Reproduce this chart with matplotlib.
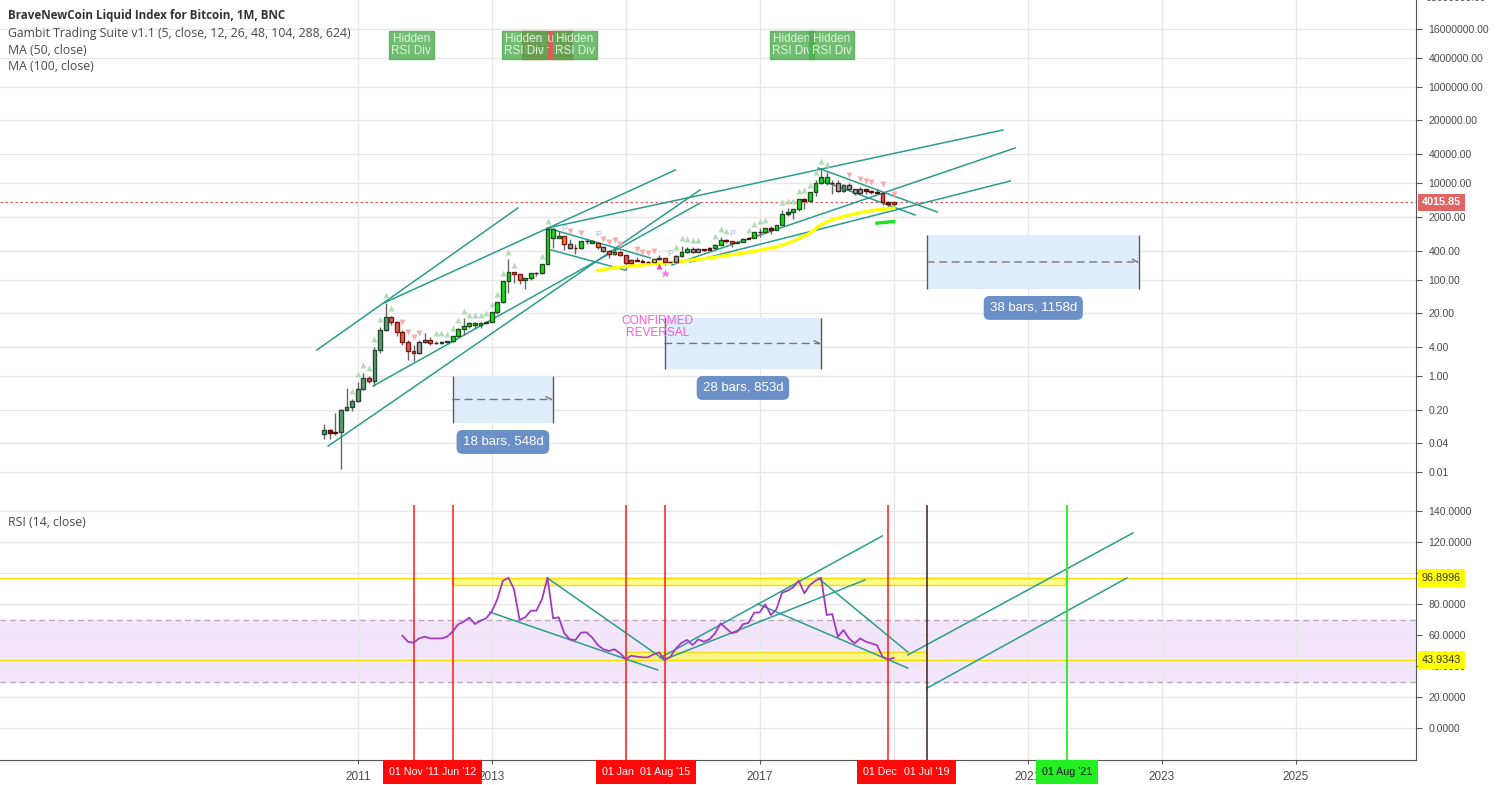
import numpy as np
import pandas as pd
import matplotlib
matplotlib.use("Agg")
import matplotlib.pyplot as plt
import matplotlib.transforms as mtrans
from matplotlib.patches import Rectangle

plt.rcParams["font.family"] = ["Liberation Sans", "DejaVu Sans"]

# ------------------------------------------------------------------ data
first_month = "2010-07-01"

opens = [0.064, 0.075, 0.065, 0.068, 0.20, 0.23,
         0.30, 0.55, 0.89, 0.80, 3.5, 9.0, 16.5, 13.4, 8.3, 5.15, 3.35, 3.0,
         5.0, 5.6, 4.95, 4.9, 5.0, 5.2, 6.8, 9.5, 10.7, 12.4, 11.3, 12.6,
         13.5, 20.9, 33.8, 94, 141, 129, 97, 106, 135, 134, 207, 1130,
         730, 800, 550, 450, 445, 630, 640, 585, 478, 388, 340, 378,
         320, 218, 255, 245, 237, 230, 263, 284, 230, 237, 314, 378,
         430, 370, 437, 416, 448, 530, 670, 624, 575, 608, 700, 742,
         965, 970, 1190, 1080, 1350, 2300, 2480, 2870, 4700, 4340, 6450, 9950,
         13300, 10100, 10300, 6900, 9200, 7500, 6300, 7700, 7000, 6600, 6300, 4000,
         3700]
highs = [0.10, 0.08, 0.17, 0.21, 0.56, 0.33,
         0.75, 1.14, 1.0, 4.05, 10.5, 33, 17.6, 14, 9.0, 5.6, 4.4, 5.5,
         7.7, 6.3, 5.4, 5.3, 5.2, 6.9, 9.8, 15.7, 13.0, 12.9, 13.0, 14.0,
         21, 34.5, 95, 264, 141, 130, 110, 137, 146, 213, 1160, 1160,
         1000, 800, 700, 540, 630, 680, 660, 600, 490, 415, 455, 383,
         320, 270, 300, 262, 248, 268, 320, 285, 245, 330, 500, 470,
         465, 448, 440, 468, 550, 780, 700, 626, 620, 740, 755, 970,
         1150, 1200, 1290, 1350, 2760, 3000, 2950, 4750, 5000, 6450, 11500, 19800,
         17200, 11800, 11600, 9800, 10000, 7700, 8500, 7750, 7400, 7600, 6500, 4200,
         4100]
lows = [0.05, 0.05, 0.06, 0.012, 0.19, 0.19,
        0.29, 0.52, 0.72, 0.62, 2.95, 8.7, 11.4, 6.8, 4.4, 2.15, 2.0, 2.8,
        4.8, 4.3, 4.6, 4.7, 4.9, 5.1, 6.4, 7.1, 9.8, 9.9, 10.0, 12.0,
        13, 19, 32, 53, 85, 80, 65, 100, 119, 133, 203, 450,
        730, 420, 440, 340, 430, 560, 570, 440, 370, 276, 323, 310,
        160, 214, 240, 216, 225, 220, 255, 198, 225, 236, 300, 350,
        350, 366, 400, 405, 440, 520, 580, 470, 575, 605, 680, 742,
        750, 920, 890, 1080, 1350, 2100, 1850, 2700, 2950, 4100, 5500, 9500,
        9200, 6000, 6600, 6500, 7000, 5800, 6100, 5900, 6100, 6200, 3500, 3150,
        3400]
closes = [0.075, 0.065, 0.068, 0.20, 0.23, 0.30,
          0.55, 0.89, 0.80, 3.5, 9.0, 16.5, 13.4, 8.3, 5.15, 3.35, 3.0, 5.0,
          5.6, 4.95, 4.9, 5.0, 5.2, 6.8, 9.5, 10.7, 12.4, 11.3, 12.6, 13.5,
          20.9, 33.8, 94, 141, 129, 97, 106, 135, 134, 207, 1130, 730,
          800, 550, 450, 445, 630, 640, 585, 478, 388, 340, 378, 320,
          218, 255, 245, 237, 230, 263, 284, 230, 237, 314, 378, 430,
          370, 437, 416, 448, 530, 670, 624, 575, 608, 700, 742, 965,
          970, 1190, 1080, 1350, 2300, 2480, 2870, 4700, 4340, 6450, 9950, 13300,
          10100, 10300, 6900, 9200, 7500, 6300, 7700, 7000, 6600, 6300, 4000, 3700,
          4015.85]
# bar colour class given by the Gambit suite
bar_kind = (["sg", "mr", "mr", "sg", "sg", "sg"]
            + ["sg", "sg", "red", "sg", "sg", "sg", "red", "red", "red", "red", "red", "gray"]
            + ["gray", "red", "dg", "dg", "dg", "lime", "lime", "lime", "lime", "lime", "lime", "dg"]
            + ["lime", "lime", "lime", "lime", "red", "red", "lime", "lime", "mr", "lime", "lime", "lime"]
            + ["lime", "orange", "gray", "mr", "lime", "mr", "lime", "orange", "gray", "red", "yellow", "red"]
            + ["red", "red", "mr", "mr", "mr", "yellow", "gray", "red", "mr", "gray", "lime", "lime"]
            + ["gray", "gray", "mr", "mr", "lime", "lime", "mr", "orange", "sg", "lime", "mr", "lime"]
            + ["mr", "lime", "mr", "lime", "lime", "dg", "lime", "lime", "mr", "lime", "lime", "lime"]
            + ["lime", "mr", "gray", "sg", "gray", "gray", "gray", "mr", "mr", "mr", "red", "mr"]
            + ["red"])
# u = buy triangle, d = sell triangle, p = "P" mark, m/x = magenta marks under the bar
signals = (".....u" + "uuuuuuu.dddd" + "..uuuuuuuuuu" + "uuuuu....uu." + ".pd.d..pdddd"
           + "..ddddmxpuuu" + "uu..uuup..uu" + "uu..uuuuuuuu" + "u...d.ddd.d." + "d")

rsi_first_month = "2011-09-01"
rsi_values = [59.6, 55.7, 55.0, 57.8,
              58.9, 57.8, 57.8, 57.8, 58.9, 62.2, 66.9, 68.6, 71.2, 67.1, 69.2, 70.8,
              75.0, 83.0, 95.0, 96.9, 89.5, 69.7, 71.4, 75.7, 75.7, 83.0, 96.9, 70.8,
              71.4, 61.1, 57.2, 56.8, 61.5, 61.7, 58.3, 53.5, 50.8, 49.7, 50.8, 48.2,
              44.5, 46.6, 46.0, 45.6, 45.6, 47.5, 48.8, 43.9, 46.0, 51.4, 55.0, 56.8,
              53.5, 57.2, 55.7, 57.2, 61.1, 67.5, 64.3, 61.1, 62.2, 66.9, 67.9, 74.4,
              74.6, 79.8, 72.9, 76.6, 87.3, 88.6, 90.8, 95.0, 86.9, 92.3, 95.0, 96.9,
              72.9, 73.5, 58.9, 63.2, 57.8, 54.6, 57.8, 55.7, 54.6, 53.5, 46.0, 44.2,
              45.2]

last_price = 4015.85
rsi_high_level = 96.8996
rsi_low_level = 43.9343

price_ticks = [0.01, 0.04, 0.2, 1, 4, 20, 100, 400, 2000, 10000, 40000,
               200000, 1000000, 4000000, 16000000, 68000000]
rsi_ticks = [0, 20, 40, 60, 80, 100, 120, 140]
year_ticks = [2011, 2013, 2015, 2017, 2019, 2021, 2023, 2025]
hidden_years = [2015, 2019]  # covered by the date tags

# hand-drawn trend lines, (decimal year, value) pairs
price_lines = [((2010.39, 3.46), (2013.39, 3057)),
               ((2011.39, 32.7), (2015.74, 18790)),
               ((2011.23, 0.62), (2016.11, 3880)),
               ((2010.56, 0.0353), (2016.11, 7230)),
               ((2013.83, 1176), (2020.63, 127000)),
               ((2015.69, 201), (2020.81, 53700)),
               ((2015.96, 232), (2020.74, 11100)),
               ((2013.83, 1176), (2015.37, 281)),
               ((2013.89, 411), (2014.99, 158)),
               ((2017.87, 20660), (2019.65, 2525)),
               ((2017.90, 11650), (2019.32, 2190))]
rsi_lines = [((2012.97, 74.8), (2015.48, 37.4)),
             ((2013.83, 96.8), (2015.56, 44.5)),
             ((2015.51, 45.2), (2018.83, 123.9)),
             ((2015.56, 43.9), (2018.57, 95.5)),
             ((2017.87, 96.8), (2019.21, 49.0)),
             ((2016.97, 80.0), (2019.21, 38.7)),
             ((2019.21, 47.1), (2022.57, 125.8)),
             ((2019.50, 25.8), (2022.48, 96.8))]
rsi_zones = [(2012.417, 2021.55, 92.3, rsi_high_level),
             (2015.0, 2019.5, rsi_low_level, 49.0)]

# date range measurements: start, end, low, high, label
ranges = [(2012.417, 2013.917, 0.106, 1.0, "18 bars, 548d"),
          (2015.583, 2017.917, 1.4, 16.0, "28 bars, 853d"),
          (2019.5, 2022.667, 64.0, 842.0, "38 bars, 1158d")]

# marked dates: decimal year, tag text, tag offset (px), kind
marked = [(2011.833, "01 Nov '11", 0, "red"), (2012.417, "Jun '12", 6, "red"),
          (2015.0, "01 Jan", -8, "red"), (2015.583, "01 Aug '15", 0, "red"),
          (2018.917, "01 Dec", -8, "red"), (2019.5, "01 Jul '19", 0, "red"),
          (2021.583, "01 Aug '21", 0, "green")]

div_labels = [(2013.82, "Regular\nBear Div", "r"),
              (2011.80, "Hidden\nRSI Div", "g"), (2013.48, "Hidden\nRSI Div", "g"),
              (2014.24, "Hidden\nRSI Div", "g"), (2017.48, "Hidden\nRSI Div", "g"),
              (2018.07, "Hidden\nRSI Div", "g")]

# ------------------------------------------------------------------ styles
KIND = {"lime": ("#16e016", "#1d4f1d"), "sg": ("#5f9e74", "#24492f"),
        "red": ("#dd5f57", "#7a1a12"), "mr": ("#8b1c1c", "#5a0c0c"),
        "orange": ("#ff8a1c", "#7a1a12"), "yellow": ("#ffff30", "#3a3a10"),
        "gray": ("#a8a8a8", "#3a2a2a"), "dg": ("#2e6b3c", "#1a3d22")}
TEAL = "#2a9d8f"
TXT = "#4a4a4a"
W, H = 1498, 785
LEG_FONT = ["Open Sans", "DejaVu Sans"]

t = pd.date_range(first_month, periods=len(closes), freq="MS")
t = (t.year + (t.month - 1) / 12).to_numpy(dtype=float)
tr = pd.date_range(rsi_first_month, periods=len(rsi_values), freq="MS")
tr = (tr.year + (tr.month - 1) / 12).to_numpy(dtype=float)

ma50 = pd.Series(closes).rolling(50).mean().to_numpy()
ma100 = pd.Series(closes).rolling(100).mean().to_numpy()

fig = plt.figure(figsize=(W / 100, H / 100), dpi=100)
ax1 = fig.add_axes([0, 280 / H, 1416 / W, 505 / H])
ax2 = fig.add_axes([0, 25 / H, 1416 / W, 255 / H], sharex=ax1)

xlim = (2011 - 357.7 / 67, 2011 + (1416 - 357.7) / 67)
ax1.set_xlim(*xlim)
ax1.set_yscale("log")
ax1.set_ylim(10 ** ((376 - 505) / 48.2), 10 ** (376 / 48.2))
ax2.set_ylim((728 - 760) / 1.55, (728 - 505) / 1.55)

for ax in (ax1, ax2):
    ax.set_facecolor("white")
    for s in ("top", "left", "bottom"):
        ax.spines[s].set_visible(False)
    ax.spines["right"].set_color("#555555")
    ax.yaxis.tick_right()
    ax.tick_params(axis="y", which="both", direction="out", length=4, color="#555555",
                   labelsize=7.6, labelcolor=TXT, pad=5)
    ax.grid(True, color="#e8e8e8", lw=1)
    ax.set_axisbelow(True)
ax1.spines["bottom"].set_visible(True)
ax1.spines["bottom"].set_color("#cfcfcf")
ax2.spines["bottom"].set_visible(True)
ax2.spines["bottom"].set_color("#555555")

ax1.yaxis.set_major_locator(matplotlib.ticker.FixedLocator(price_ticks))
ax1.yaxis.set_minor_locator(matplotlib.ticker.NullLocator())
ax1.set_yticklabels(["%.2f" % v for v in price_ticks])
ax2.set_yticks(rsi_ticks)
ax2.set_yticklabels(["" if v == 100 else "%.4f" % v for v in rsi_ticks])
ax2.set_xticks(year_ticks)
ax2.set_xticklabels(["" if y in hidden_years else str(y) for y in year_ticks])
ax2.tick_params(axis="x", direction="out", length=3, color="#555555", labelsize=8.5,
                labelcolor=TXT, pad=5)
ax1.tick_params(axis="x", labelbottom=False, length=0)

# top price label is only half inside the panel
ytr = mtrans.blended_transform_factory(ax1.transAxes, ax1.transData)
ax1.text(1.0, price_ticks[-1], "%.2f" % price_ticks[-1], fontsize=7.6, color=TXT,
         va="center", ha="left", clip_on=False,
         transform=ytr + mtrans.ScaledTranslation(9 / 100, 0, fig.dpi_scale_trans))

# ------------------------------------------------------------------ price panel
ax1.axhline(last_price, color="#e25a5a", ls=(0, (2, 2)), lw=0.9, zorder=2)

for (x0, y0), (x1, y1) in price_lines:
    ax1.plot([x0, x1], [y0, y1], color=TEAL, lw=1.1, zorder=3)

bw = 0.058
for i in range(len(closes)):
    face, edge = KIND[bar_kind[i]]
    ax1.vlines(t[i], lows[i], highs[i], color="#666666", lw=1, zorder=4)
    lo, hi = min(opens[i], closes[i]), max(opens[i], closes[i])
    ax1.add_patch(Rectangle((t[i] - bw / 2, lo), bw, hi - lo, fc=face, ec=edge,
                            lw=1, zorder=5))

ax1.plot(t, ma50, color="#ffff00", lw=2.4, zorder=4.5)
ax1.plot(t, ma100, color="#19e619", lw=2.4, zorder=4.5)

for i, s in enumerate(signals):
    if s == "u":
        ax1.plot(t[i], highs[i] * 1.45, "^", ms=4.2, color="#b3dcb5", mec="none", zorder=6)
    elif s == "d":
        ax1.plot(t[i], highs[i] * 1.45, "v", ms=4.2, color="#f7acac", mec="none", zorder=6)
    elif s == "p":
        ax1.text(t[i], highs[i] * 1.45, "P", color="#b4b4ff", fontsize=6.5, ha="center",
                 va="center", zorder=6)
    elif s == "m":
        ax1.plot(t[i], lows[i] / 1.35, "^", ms=4.2, color="#ff40d0", mec="none", zorder=6)
    elif s == "x":
        ax1.plot(t[i], lows[i] / 1.45, "*", ms=6.5, color="#ff70e0", mec="none", zorder=6)

for x0, x1, lo, hi, label in ranges:
    ax1.add_patch(Rectangle((x0, lo), x1 - x0, hi - lo, fc="#e0edfc", ec="none", zorder=1.5))
    ax1.vlines([x0, x1], lo, hi, color="#5a5a5a", lw=1, zorder=2)
    mid = np.sqrt(lo * hi)
    ax1.annotate("", xy=(x1, mid), xytext=(x0, mid),
                 arrowprops=dict(arrowstyle="->", ls=(0, (5, 4)), color="#777777", lw=1,
                                 shrinkA=0, shrinkB=0), zorder=2)
    ax1.annotate(label, xy=((x0 + x1) / 2, lo), xytext=(0, -19),
                 textcoords="offset pixels", ha="center", va="center", color="white",
                 fontsize=9.5, zorder=7,
                 bbox=dict(boxstyle="round,pad=0.45", fc="#6b8fc7", ec="none"))

ax1.text(2015.47, 10.4, "CONFIRMED\nREVERSAL", color="#ff55dd", fontsize=8.6,
         ha="center", va="center", linespacing=0.95, zorder=7)

top_tr = mtrans.blended_transform_factory(ax1.transData, ax1.transAxes)
for x, txt, kind in div_labels:
    fc = (0.85, 0.33, 0.31, 0.95) if kind == "r" else (0.30, 0.68, 0.31, 0.8)
    ax1.text(x, 1 - 45 / 505, txt, transform=top_tr, ha="center", va="center",
             fontsize=8.5, color="#dff3df", linespacing=0.95, zorder=8,
             bbox=dict(boxstyle="square,pad=0.2", fc=fc, ec=fc))

# ------------------------------------------------------------------ RSI panel
ax2.axhspan(30, 70, color="#f3e6fb", zorder=0.5)
for lv in (70, 30):
    ax2.axhline(lv, color="#b7a9b9", ls=(0, (4, 3)), lw=1, zorder=1)

for x0, x1, lo, hi in rsi_zones:
    ax2.add_patch(Rectangle((x0, lo), x1 - x0, hi - lo, fc=(1, 1, 0.25, 0.6),
                            ec=(0.95, 0.85, 0, 0.9), lw=1, zorder=1.5))
for lv in (rsi_high_level, rsi_low_level):
    ax2.axhline(lv, color="#f2e100", lw=1, zorder=1.6)

for (x0, y0), (x1, y1) in rsi_lines:
    ax2.plot([x0, x1], [y0, y1], color=TEAL, lw=1.1, zorder=3)

ax2.plot(tr, rsi_values, color="#a23ac0", lw=1.3, zorder=4)

for x, txt, dx, kind in marked:
    if kind == "green":
        ax2.axvline(x, color="#22ee22", lw=1.3, zorder=3.5)
    elif x == 2019.5:
        ax2.axvline(x, color="#3a2020", lw=1.1, zorder=3.5)
    else:
        ax2.axvline(x, color="#ff1a1a", lw=1.1, zorder=3.5)

# date tags under the axis: measure each text, then draw its box behind all texts
tags = []
for x, txt, dx, kind in marked:
    fc, tc = ("#ff0a0a", "white") if kind == "red" else ("#22ee22", "#1a1a1a")
    px = ax2.transData.transform((x, 0))[0] + dx
    tobj = fig.text(px / W, 13 / H, txt, ha="center", va="center", fontsize=7.7,
                    color=tc, zorder=11)
    tags.append((tobj, fc))
renderer = fig.canvas.get_renderer()
for tobj, fc in tags:
    bb = tobj.get_window_extent(renderer)
    fig.add_artist(Rectangle(((bb.x0 - 6) / W, 1 / H), (bb.width + 12) / W, 24 / H,
                             transform=fig.transFigure, fc=fc, ec="none", zorder=10))

# right-hand value tags
def value_tag(ax, y, text, fc, tc, bold=False):
    tr_ = mtrans.blended_transform_factory(ax.transAxes, ax.transData)
    ax.annotate(text, xy=(1.0, y), xycoords=tr_, xytext=(6, 0), textcoords="offset pixels",
                ha="left", va="center", fontsize=7.8, color=tc, zorder=10,
                fontweight="bold" if bold else "normal", annotation_clip=False,
                bbox=dict(boxstyle="square,pad=0.35", fc=fc, ec="none"))

value_tag(ax1, last_price, "4015.85", "#e06464", "white", bold=True)
value_tag(ax2, rsi_high_level, "96.8996", "#ffff00", "#333333")
value_tag(ax2, rsi_low_level, "43.9343", "#ffff00", "#333333")

# ------------------------------------------------------------------ legend texts
fig.text(8 / W, 1 - 16 / H, "BraveNewCoin Liquid Index for Bitcoin, 1M, BNC",
         fontsize=8.4, fontweight="bold", color="#333333", va="center", family=LEG_FONT)
for k, s in enumerate(["Gambit Trading Suite v1.1 (5, close, 12, 26, 48, 104, 288, 624)",
                       "MA (50, close)", "MA (100, close)"]):
    fig.text(8 / W, 1 - (33 + 17 * k) / H, s, fontsize=8.8, color=TXT, va="center",
             family=LEG_FONT)
fig.text(8 / W, 1 - 522 / H, "RSI (14, close)", fontsize=8.8, color=TXT, va="center",
         family=LEG_FONT)

fig.savefig("out.png", dpi=100, facecolor="white")
